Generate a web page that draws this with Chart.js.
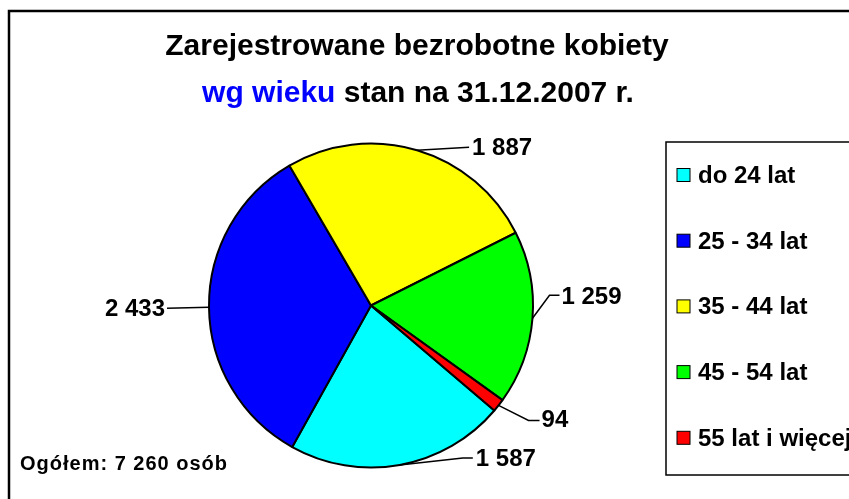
<!DOCTYPE html>
<html>
<head>
<meta charset="utf-8">
<script src="https://cdn.jsdelivr.net/npm/chart.js@4/dist/chart.umd.min.js"></script>
<style>
  html, body { margin: 0; padding: 0; background: #fff; }
  #wrap { width: 849px; height: 499px; }
</style>
</head>
<body>
<div id="wrap"><canvas id="wykres" width="849" height="499"></canvas></div>
<script>
// dane
const kategorie = ['do 24 lat', '25 - 34 lat', '35 - 44 lat', '45 - 54 lat', '55 lat i więcej'];
const wartosci = [1587, 2433, 1887, 1259, 94];
const etykiety = ['1 587', '2 433', '1 887', '1 259', '94'];
const kolory = ['#00FFFF', '#0000FF', '#FFFF00', '#00FF00', '#FF0000'];
const tytul1 = 'Zarejestrowane bezrobotne kobiety';
const tytul2a = 'wg wieku';
const tytul2b = ' stan na 31.12.2007 r.';
const ogolem = 'Ogółem: 7 260 osób';

const FONT = '"Liberation Sans", Arial, sans-serif';

// linie odniesienia: punkty wzgledem krawedzi wycinka, potem kotwica tekstu
const linie = [
  { pts: [[63, -7], [73, -7]], txt: [76, -7], align: 'left' },
  { pts: [[-42, 1]], txt: [-44, 1], align: 'right' },
  { pts: [[52, -3]], txt: [55, -3], align: 'left' },
  { pts: [[17, -23], [27, -23]], txt: [29, -22], align: 'left' },
  { pts: [[30, 15], [41, 15]], txt: [43, 14], align: 'left' }
];

const tlo = {
  id: 'tlo',
  beforeDraw(chart) {
    const ctx = chart.ctx;
    ctx.save();
    ctx.fillStyle = '#fff';
    ctx.fillRect(0, 0, chart.width, chart.height);
    ctx.restore();
  }
};

const dodatki = {
  id: 'dodatki',
  afterDraw(chart) {
    const ctx = chart.ctx;
    ctx.save();

    // ramka calosci
    ctx.strokeStyle = '#000';
    ctx.lineWidth = 2.5;
    ctx.strokeRect(9, 11, 900, 600);

    // tytul
    ctx.textBaseline = 'alphabetic';
    ctx.font = 'bold 30px ' + FONT;
    ctx.fillStyle = '#000';
    ctx.textAlign = 'center';
    ctx.fillText(tytul1, 417, 55);
    const wa = ctx.measureText(tytul2a).width;
    const wb = ctx.measureText(tytul2b).width;
    let x0 = 418 - (wa + wb) / 2;
    ctx.textAlign = 'left';
    ctx.fillStyle = '#0000FF';
    ctx.fillText(tytul2a, x0, 102);
    ctx.fillStyle = '#000';
    ctx.fillText(tytul2b, x0 + wa, 102);

    // etykiety danych
    const meta = chart.getDatasetMeta(0);
    ctx.font = 'bold 24px ' + FONT;
    ctx.textBaseline = 'middle';
    meta.data.forEach((arc, i) => {
      const p = arc.getProps(['x', 'y', 'startAngle', 'endAngle', 'outerRadius'], true);
      const mid = (p.startAngle + p.endAngle) / 2;
      const ex = p.x + Math.cos(mid) * p.outerRadius;
      const ey = p.y + Math.sin(mid) * p.outerRadius;
      const l = linie[i];
      ctx.strokeStyle = '#000';
      ctx.lineWidth = 1.5;
      ctx.beginPath();
      ctx.moveTo(ex, ey);
      l.pts.forEach(q => ctx.lineTo(ex + q[0], ey + q[1]));
      ctx.stroke();
      ctx.fillStyle = '#000';
      ctx.textAlign = l.align;
      ctx.fillText(etykiety[i], ex + l.txt[0], ey + l.txt[1] + 1);
    });

    // legenda
    ctx.strokeStyle = '#000';
    ctx.lineWidth = 1.5;
    ctx.strokeRect(666, 142, 300, 333);
    ctx.textAlign = 'left';
    ctx.textBaseline = 'alphabetic';
    ctx.font = 'bold 24px ' + FONT;
    const ds = chart.data.datasets[0];
    chart.data.labels.forEach((lab, i) => {
      const cy = 175 + i * 65.7;
      ctx.fillStyle = ds.backgroundColor[i];
      ctx.fillRect(677, cy - 6.5, 13, 13);
      ctx.lineWidth = 1;
      ctx.strokeRect(677, cy - 6.5, 13, 13);
      ctx.fillStyle = '#000';
      ctx.fillText(lab, 698, cy + 8);
    });

    // suma
    ctx.font = 'bold 20px ' + FONT;
    ctx.letterSpacing = '1px';
    ctx.fillText(ogolem, 20, 470);
    ctx.restore();
  }
};

new Chart(document.getElementById('wykres'), {
  type: 'pie',
  data: {
    labels: kategorie,
    datasets: [{
      data: wartosci,
      backgroundColor: kolory,
      borderColor: '#000',
      borderWidth: 2
    }]
  },
  options: {
    responsive: false,
    animation: false,
    rotation: 130.4,
    layout: { padding: { left: 208, right: 315, top: 142, bottom: 30 } },
    plugins: {
      legend: { display: false },
      title: { display: false },
      tooltip: { enabled: false }
    }
  },
  plugins: [tlo, dodatki]
});
</script>
</body>
</html>
